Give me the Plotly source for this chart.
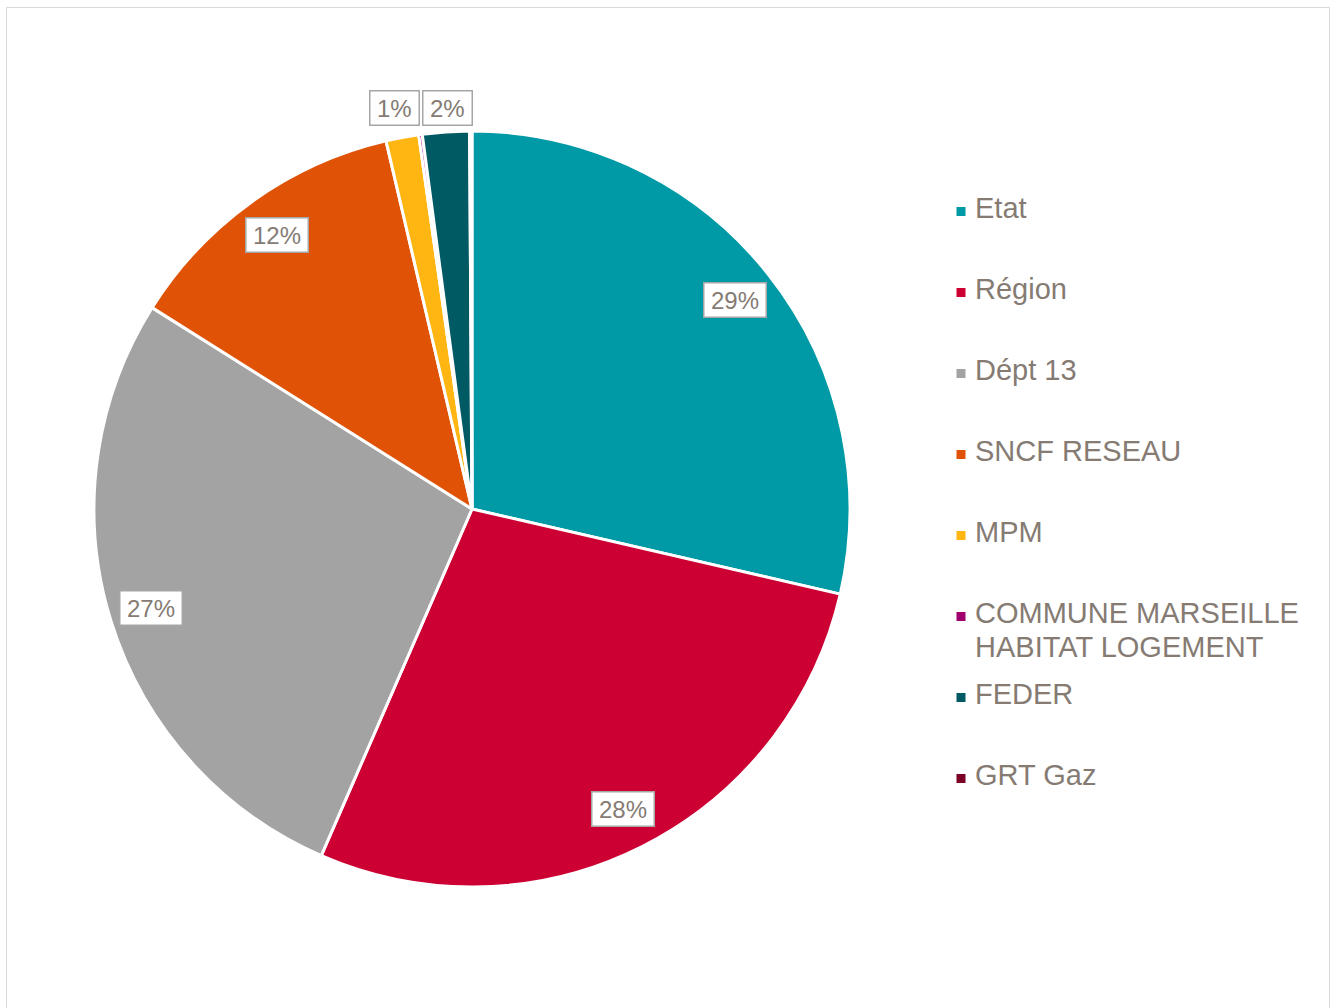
import math
import plotly.graph_objects as go

# Funding partners and their share of the total (%)
partners = ["Etat", "Région", "Dépt 13", "SNCF RESEAU", "MPM",
            "COMMUNE MARSEILLE<br>HABITAT LOGEMENT", "FEDER", "GRT Gaz"]
shares = [28.6, 27.9, 27.4, 12.4, 1.4, 0.15, 2.0, 0.1]
colors = ["#0099A6", "#CC0033", "#A3A3A3", "#E05206", "#FFB612",
          "#A0006E", "#005A64", "#7A0026"]

W, H = 1335, 1008
CX, CY, R = 472, 509, 378          # pie centre and radius in pixels
TEXT = "#857B73"
FONT = "Liberation Sans, Arial, sans-serif"
LABEL_SIZE = 24


def px(x):
    return x / W


def py(y):
    return 1 - y / H


def label_width(s):
    # approximate Arial advance widths for digits and '%'
    digits = sum(ch.isdigit() for ch in s)
    return LABEL_SIZE * (0.556 * digits + 0.889) + 7


fig = go.Figure(go.Pie(
    labels=[p.replace("<br>", " ") for p in partners],
    values=shares,
    sort=False,
    direction="clockwise",
    rotation=0,
    marker=dict(colors=colors, line=dict(color="white", width=3)),
    textinfo="none",
    hoverinfo="label+percent",
    domain=dict(x=[px(CX - R), px(CX + R)], y=[py(CY + R), py(CY - R)]),
    showlegend=False,
))

annotations = []
shapes = []

# Percentage labels, placed from each slice's mid-angle
total = sum(shares)
cum = 0.0
outside = []
for val in shares:
    frac = val / total
    mid = (cum + frac / 2) * 2 * math.pi
    cum += frac
    pct = round(frac * 100)
    if pct < 1:
        continue
    label = f"{pct}%"
    if frac >= 0.05:
        r = 0.89 * R
        x = CX + r * math.sin(mid)
        y = CY - r * math.cos(mid)
        annotations.append([label, x, y])
    else:
        r = 1.06 * R
        outside.append([label, CX + r * math.sin(mid), CY - r])

# keep the small outside labels from overlapping
outside.sort(key=lambda o: o[1])
for i in range(1, len(outside)):
    gap = (label_width(outside[i][0]) + label_width(outside[i - 1][0])) / 2 + 11
    d = outside[i][1] - outside[i - 1][1]
    if d < gap:
        push = (gap - d) / 2
        outside[i - 1][1] -= push
        outside[i][1] += push
annotations += outside

ann_objs = []
for label, x, y in annotations:
    ann_objs.append(dict(
        x=px(x), y=py(y), xref="paper", yref="paper",
        text=label, showarrow=False, xanchor="center", yanchor="middle",
        font=dict(family=FONT, size=LABEL_SIZE, color=TEXT),
        bgcolor="white", bordercolor="#A6A6A6", borderwidth=1.5,
        borderpad=3, width=label_width(label), height=27,
    ))

# Legend drawn at the right
LX, LY0, LSTEP, LLINE = 961, 209, 81, 34
for i, (name, col) in enumerate(zip(partners, colors)):
    cy = LY0 + LSTEP * i
    shapes.append(dict(
        type="rect", xref="paper", yref="paper",
        x0=px(LX - 4.5), x1=px(LX + 4.5), y0=py(cy + 7), y1=py(cy - 2),
        fillcolor=col, line=dict(width=0),
    ))
    for j, line in enumerate(name.split("<br>")):
        ann_objs.append(dict(
            x=px(973), y=py(cy - 1 + j * LLINE), xref="paper", yref="paper",
            text=line, showarrow=False, xanchor="left", yanchor="middle",
            font=dict(family=FONT, size=29, color=TEXT),
        ))

# Thin frame around the chart area
shapes.append(dict(
    type="rect", xref="paper", yref="paper",
    x0=px(6.5), x1=px(1329.5), y0=-0.01, y1=py(7.5),
    line=dict(color="#D9D9D9", width=1), fillcolor="rgba(0,0,0,0)",
))

fig.update_layout(
    width=W, height=H,
    margin=dict(l=0, r=0, t=0, b=0),
    paper_bgcolor="white",
    plot_bgcolor="white",
    annotations=ann_objs,
    shapes=shapes,
)

fig.write_html("out.html")
